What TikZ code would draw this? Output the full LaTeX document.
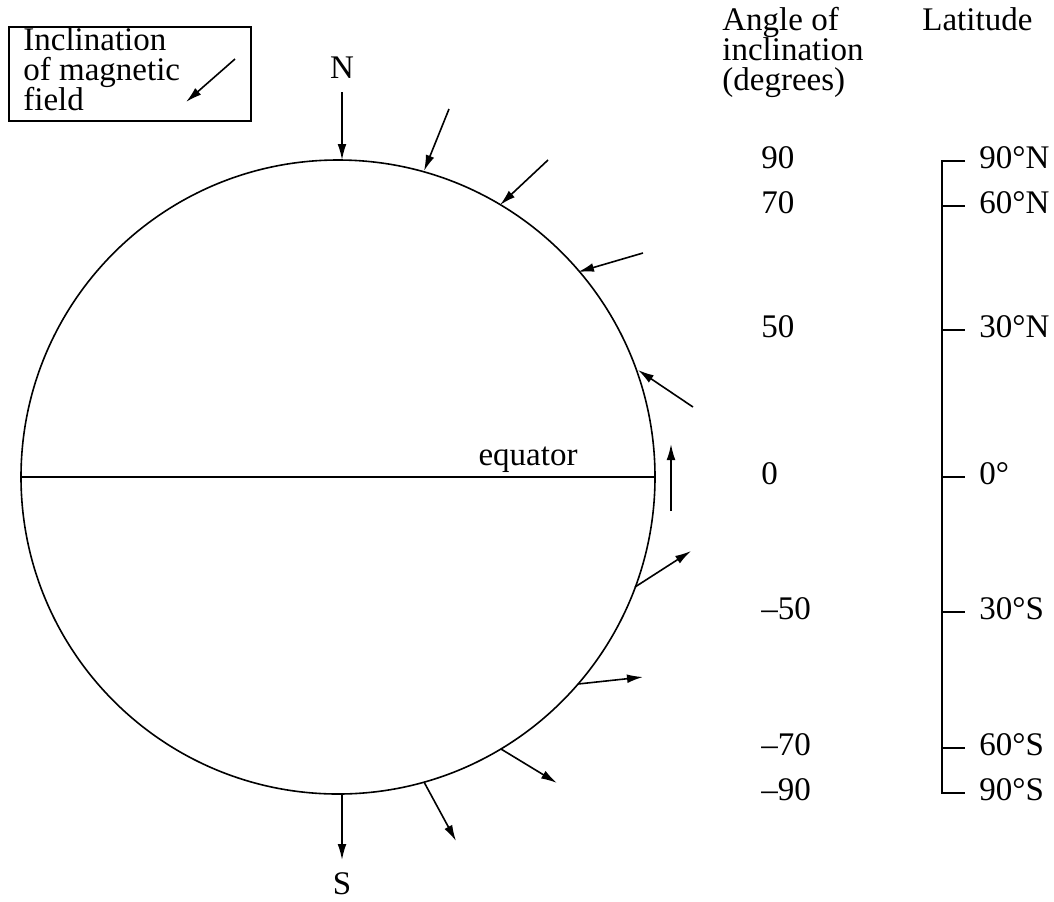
\documentclass[tikz,border=0pt]{standalone}
\usepackage{fontspec}
\setmainfont{Liberation Serif}
\usetikzlibrary{arrows.meta}
\begin{document}
\begin{tikzpicture}[x=0.5pt,y=-0.5pt,
  lbl/.style={font=\fontsize{16.5}{15}\selectfont, inner sep=0pt, anchor=base west},
  clbl/.style={font=\fontsize{16.5}{15}\selectfont, inner sep=0pt},
  fld/.style={-{Latex[length=8pt,width=4.4pt]}, line width=0.8pt},
  thin/.style={line width=0.8pt},
]
\useasboundingbox (0,0) rectangle (1054,901);
% Earth
\node[draw, circle, line width=0.8pt, minimum size=317pt, inner sep=0pt] (earth) at (338,477) {};
\coordinate (eqL) at (21,477);
\coordinate (eqR) at (655,477);
\draw[line width=1.2pt] (eqL) -- (eqR);
\node[clbl, anchor=base] (eqlbl) at (528,465) {equator};
% N and S
\node[clbl] (N) at (342,68) {N};
\node[clbl] (S) at (342,884) {S};
% field arrows
\coordinate (t0) at (342,92);  \coordinate (h0) at (342,160);
\coordinate (t1) at (449,109); \coordinate (h1) at (424,171);
\coordinate (t2) at (548,160); \coordinate (h2) at (500,205);
\coordinate (t3) at (643,253); \coordinate (h3) at (578,272);
\coordinate (t4) at (693,407); \coordinate (h4) at (638,370);
\coordinate (t5) at (671,511); \coordinate (h5) at (671,444);
\coordinate (t6) at (635,587); \coordinate (h6) at (691,551);
\coordinate (t7) at (578,684); \coordinate (h7) at (643,677);
\coordinate (t8) at (501,749); \coordinate (h8) at (557,783);
\coordinate (t9) at (424,782); \coordinate (h9) at (456,841);
\coordinate (t10) at (342,794); \coordinate (h10) at (342,860);
\foreach \i in {0,...,10} {\draw[fld] (t\i) -- (h\i);}
% legend
\node[draw, thin, inner sep=0pt, anchor=north west,
      minimum width=121pt, minimum height=47pt] (legend) at (8,26) {};
\node[lbl] (leg1) at (23,50) {Inclination};
\node[lbl] (leg2) at (23,80) {of magnetic};
\node[lbl] (leg3) at (23,110) {field};
\coordinate (lt) at (235,59);
\coordinate (lh) at (186,102);
\draw[fld] (lt) -- (lh);
% headers
\node[lbl] (h1a) at (722,30) {Angle of};
\node[lbl] (h1b) at (722,60) {inclination};
\node[lbl] (h1c) at (722,90) {(degrees)};
\node[lbl] (h2a) at (922,30) {Latitude};
% angle values
\node[lbl] (v90) at (761,168) {90};
\node[lbl] (v70) at (761,213) {70};
\node[lbl] (v50) at (761,337) {50};
\node[lbl] (v0) at (761,484) {0};
\node[lbl] (vm50) at (761,619) {–50};
\node[lbl] (vm70) at (761,755) {–70};
\node[lbl] (vm90) at (761,800) {–90};
% latitude scale
\coordinate (sTop) at (942,161);
\coordinate (sBot) at (942,793);
\draw[thin] (965,161) -- (sTop) -- (sBot) -- (965,793);
\foreach \y in {206,330,477,612,748} {\draw[thin] (942,\y) -- (965,\y);}
\node[lbl] (l90n) at (979,168) {90°N};
\node[lbl] (l60n) at (979,213) {60°N};
\node[lbl] (l30n) at (979,337) {30°N};
\node[lbl] (l0) at (979,484) {0°};
\node[lbl] (l30s) at (979,619) {30°S};
\node[lbl] (l60s) at (979,755) {60°S};
\node[lbl] (l90s) at (979,800) {90°S};
\end{tikzpicture}
\end{document}
